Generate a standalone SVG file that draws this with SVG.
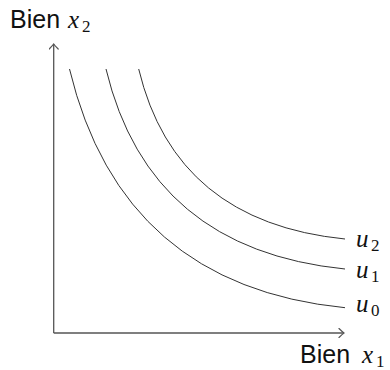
<svg xmlns="http://www.w3.org/2000/svg" width="390" height="370" viewBox="0 0 390 370">
<style>
.axis{fill:none;stroke:#555;stroke-width:1.3}
.curve{fill:none;stroke:#333;stroke-width:1}
.sans{font-family:"Liberation Sans",Arial,sans-serif;font-size:25px;fill:#111}
.math{font-family:"Liberation Serif","Times New Roman",serif;font-style:italic;font-size:25px;fill:#111}
.sub{font-family:"Liberation Serif","Times New Roman",serif;font-size:17px;fill:#111}
</style>
<defs>
<marker id="arr" viewBox="-6 -5 7 10" refX="0" refY="0" markerWidth="7" markerHeight="10" markerUnits="userSpaceOnUse" orient="auto">
<path d="M-5,-4.5 Q-1.5,-1 0,0 Q-1.5,1 -5,4.5" fill="none" stroke="#555" stroke-width="1.2" stroke-linecap="round"/>
</marker>
</defs>
<g id="connectors">
<path class="axis" d="M53.7,333 L53.7,44" marker-end="url(#arr)"/>
<path class="axis" d="M53.7,333 L344,333" marker-end="url(#arr)"/>
</g>
<g id="u0">
<path class="curve" d="M69.5,69 Q121.5,285.6 345,307.7"/>
<text class="math" x="356" y="312">u</text><text class="sub" x="371" y="316">0</text>
</g>
<g id="u1">
<path class="curve" d="M106,69 Q149.3,249.4 345,269"/>
<text class="math" x="356" y="278">u</text><text class="sub" x="371" y="282">1</text>
</g>
<g id="u2">
<path class="curve" d="M138.7,69 Q175.4,222 345,239"/>
<text class="math" x="356" y="247">u</text><text class="sub" x="371" y="251">2</text>
</g>
<g id="label-x2">
<text class="sans" x="10" y="28">Bien</text>
<text class="math" x="68" y="28">x</text><text class="sub" x="82" y="32">2</text>
</g>
<g id="label-x1">
<text class="sans" x="300" y="363">Bien</text>
<text class="math" x="362" y="363">x</text><text class="sub" x="376" y="367">1</text>
</g>
</svg>
